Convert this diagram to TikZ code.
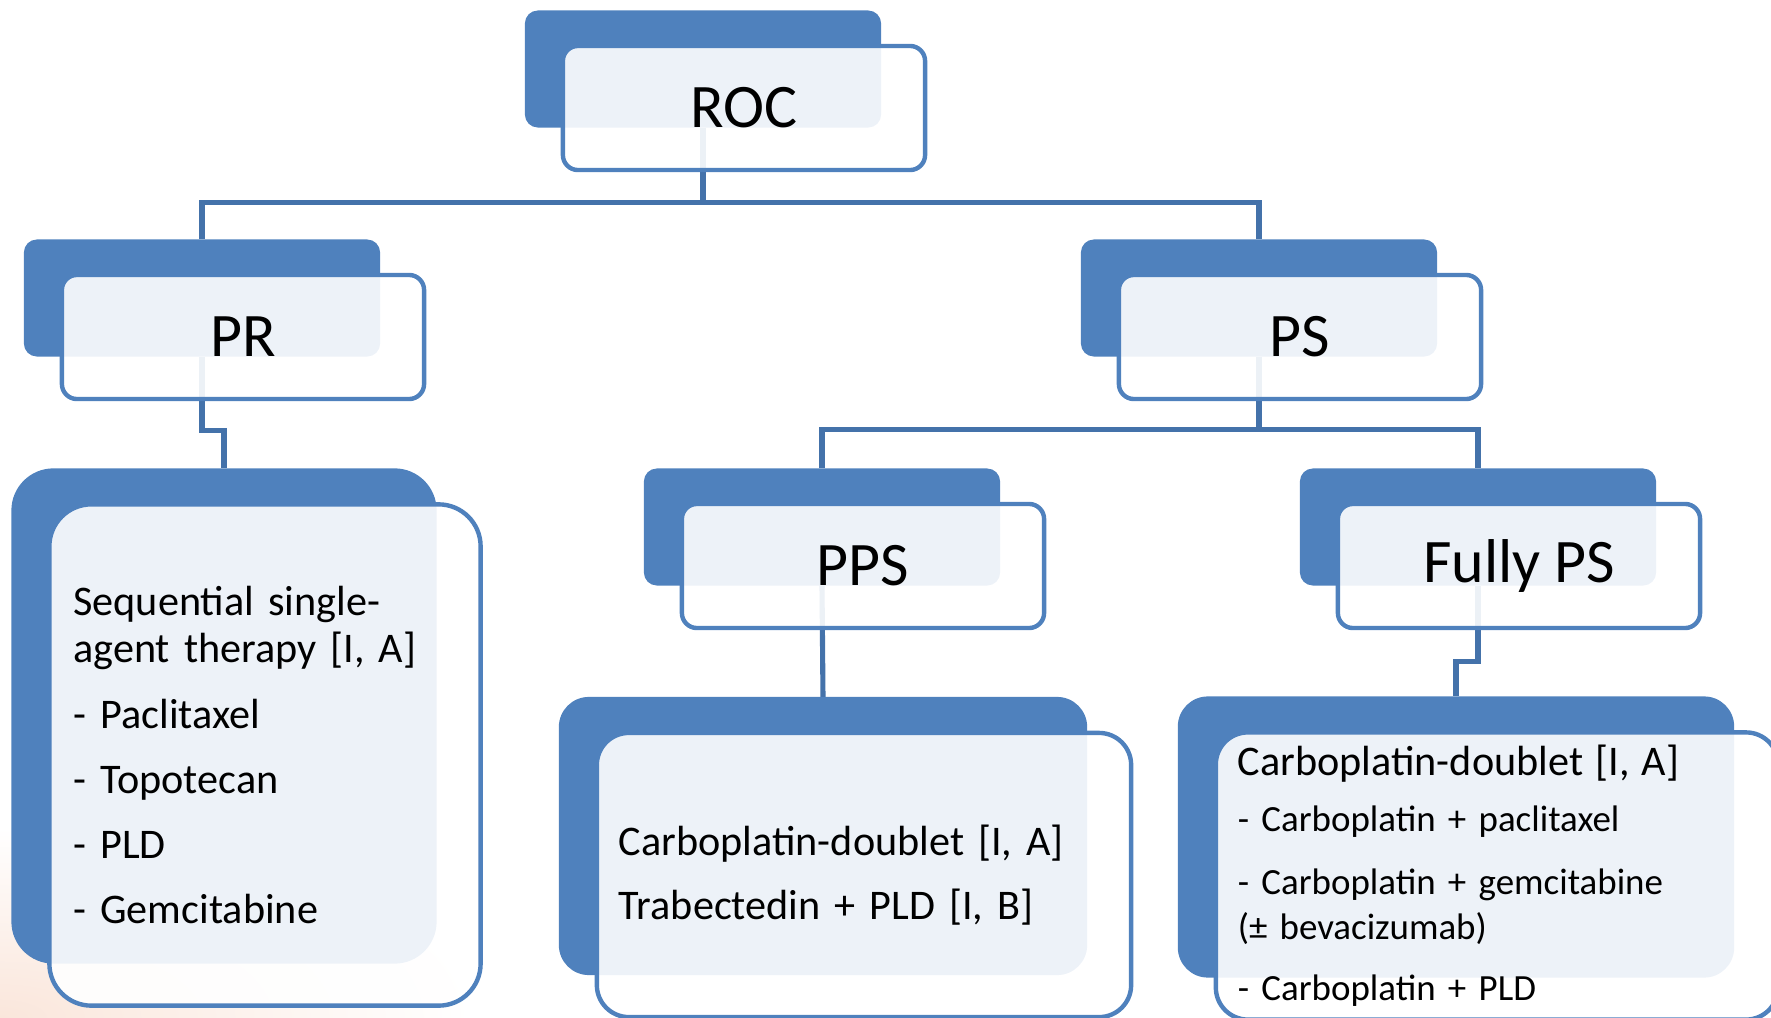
\documentclass[tikz,border=0pt]{standalone}
\usepackage{fontspec}
\setmainfont{Carlito}
\usetikzlibrary{positioning}
\definecolor{smblue}{RGB}{79,129,189}
\definecolor{linkblue}{RGB}{68,114,170}
\definecolor{peach}{RGB}{250,230,219}
\pgfdeclarelayer{bg}
\pgfdeclarelayer{links}
\pgfsetlayers{bg,links,main}
\tikzset{
  backbox/.style={fill=smblue, inner sep=0pt, outer sep=0pt},
  frontbox/.style={draw=smblue, line width=1.25pt, fill=white, fill opacity=0.9,
    text opacity=1, inner sep=0pt, outer sep=0pt},
  headback/.style={minimum width=3.56cm, minimum height=1.17cm, rounded corners=0.13cm},
  headfront/.style={minimum width=3.62cm, minimum height=1.24cm, rounded corners=0.15cm},
  listbox/.style={rounded corners=0.42cm},
  headtxt/.style={font=\fontsize{17.6}{20}\selectfont},
  listtxt/.style={align=left, font=\fontsize{12}{13.4}\selectfont},
  link/.style={draw=linkblue, line width=1.45pt},
}
\begin{document}
\begin{tikzpicture}[x=0.01cm, y=-0.01cm]
\useasboundingbox (0,0) rectangle (1771,1018);

% faint slide background
\begin{pgfonlayer}{bg}
  \clip (0,0) rectangle (1771,1018);
  \shade[inner color=peach, outer color=white] (0,1018) ellipse [x radius=470, y radius=190];
\end{pgfonlayer}

% top level
\node[backbox, headback] (rocb) at (703,69) {};
\node[frontbox, headfront, headtxt] (roc) at ([shift={(41,39)}]rocb.center) {ROC};

% second level
\node[backbox, headback] (prb) at (202,298) {};
\node[frontbox, headfront, headtxt] (pr) at ([shift={(41,39)}]prb.center) {PR};
\node[backbox, headback] (psb) at (1259,298) {};
\node[frontbox, headfront, headtxt] (ps) at ([shift={(41,39)}]psb.center) {PS};

% third level
\node[backbox, headback] (ppsb) at (822,527) {};
\node[frontbox, headfront, headtxt] (pps) at ([shift={(41,39)}]ppsb.center) {PPS};
\node[backbox, headback] (fpsb) at (1478,527) {};
\node[frontbox, headfront, headtxt] (fps) at ([shift={(41,39)}]fpsb.center) {Fully PS};

% treatment boxes
\node[backbox, listbox, minimum width=4.25cm, minimum height=4.95cm] (seqb) at (224,716) {};
\node[frontbox, listbox, listtxt, minimum width=4.31cm, minimum height=5.01cm,
  text width=3.83cm] (seq) at ([shift={(41,39)}]seqb.center)
  {Sequential single-\\agent therapy [I, A]\\[5.1pt]- Paclitaxel\\[5.1pt]- Topotecan\\[5.1pt]- PLD\\[5.1pt]- Gemcitabine};

\node[backbox, listbox, rounded corners=0.3cm, minimum width=5.28cm, minimum height=2.78cm] (midb) at (823,836) {};
\node[frontbox, listbox, listtxt, rounded corners=0.32cm, minimum width=5.34cm, minimum height=2.84cm,
  text width=4.9cm] (mid) at ([shift={(41,39)}]midb.center)
  {Carboplatin-doublet [I, A]\\[4.8pt]Trabectedin + PLD [I, B]};

\node[backbox, listbox, rounded corners=0.3cm, minimum width=5.56cm, minimum height=2.81cm] (crb) at (1456,837) {};
\node[frontbox, listbox, rounded corners=0.32cm, minimum width=5.62cm, minimum height=2.87cm,
  text width=5.18cm, align=left, font=\fontsize{10.5}{12.8}\selectfont] (cr) at ([shift={(41,39)}]crb.center)
  {{\fontsize{12}{13.4}\selectfont Carboplatin-doublet [I, A]\par}\vspace{3.1pt}- Carboplatin + paclitaxel\\[5.1pt]- Carboplatin + gemcitabine\\(± bevacizumab)\\[4.6pt]- Carboplatin + PLD};

% connectors
\begin{pgfonlayer}{links}
  \draw[link] (rocb.south) -- ++(0,75) -| (prb.north);
  \draw[link] (rocb.south) -- ++(0,75) -| (psb.north);
  \draw[link] (prb.south) -- ++(0,74) -| (seqb.north);
  \draw[link] (psb.south) -- ++(0,73) -| (ppsb.north);
  \draw[link] (psb.south) -- ++(0,73) -| (fpsb.north);
  \draw[link] (ppsb.south) -- (midb.north);
  \draw[link] (fpsb.south) -- ++(0,76) -| (crb.north);
\end{pgfonlayer}
\end{tikzpicture}
\end{document}
